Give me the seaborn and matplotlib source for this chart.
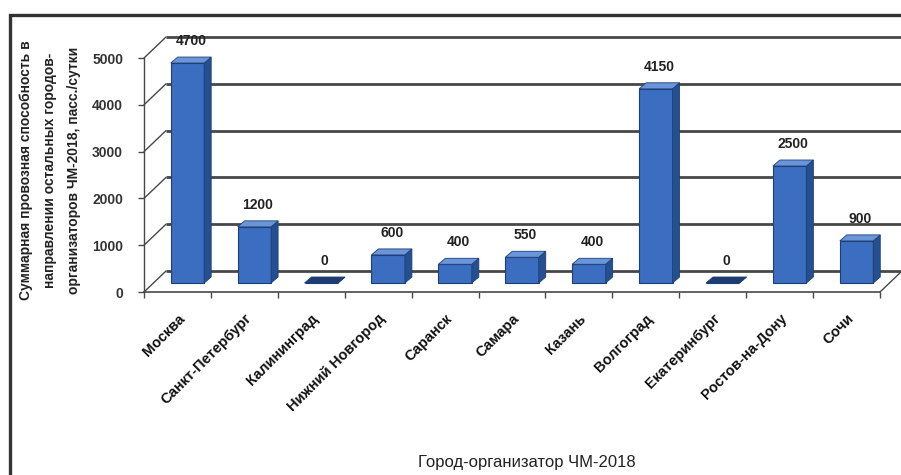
import numpy as np
import pandas as pd
import matplotlib
matplotlib.use('Agg')
import matplotlib.pyplot as plt
import seaborn as sns
from matplotlib.patches import Polygon, Rectangle

cities = ['Москва', 'Санкт-Петербург', 'Калининград', 'Нижний Новгород', 'Саранск',
          'Самара', 'Казань', 'Волгоград', 'Екатеринбург', 'Ростов-на-Дону', 'Сочи']
capacity = [4700, 1200, 0, 600, 400, 550, 400, 4150, 0, 2500, 900]
y_ticks = [0, 1000, 2000, 3000, 4000, 5000]
x_title = 'Город-организатор ЧМ-2018'
y_title = ('Суммарная провозная способность в\n'
           'направлении остальных городов-\n'
           'организаторов ЧМ-2018, пасс./сутки')

FRONT = '#3b6ec0'
SIDE = '#24508f'
TOP = '#6a95d8'
EDGE = '#1d3f78'
GRID = '#484848'

sns.set_theme(style='white')
plt.rcParams['font.family'] = ['Liberation Sans', 'DejaVu Sans']

W, H = 901, 475
fig = plt.figure(figsize=(W / 100, H / 100), dpi=100)
fig.patch.set_facecolor('white')
ax = fig.add_axes([144 / W, 1 - 292 / H, (880 - 144) / W, (292 - 58) / H])
ax.set_facecolor('none')

df = pd.DataFrame({'city': cities, 'cap': capacity})
sns.barplot(data=df, x='city', y='cap', ax=ax, color=FRONT, width=0.5,
            saturation=1, edgecolor=EDGE, linewidth=0.8, zorder=4)
n = len(cities)
ax.set_xlim(-0.5, n - 0.5)
ax.set_ylim(0, 5000)

# pixel -> data conversion
bbox = ax.get_position()
sx = (n) / (bbox.width * W)
sy = 5000 / (bbox.height * H)
def px(dx, dy):
    return dx * sx, dy * sy

bx, by = px(22, 21)   # back wall offset
mx, my = px(10, 9)    # bar placement (mid depth)
dx, dy = px(7, 6)     # bar depth

# back wall grid lines and left-wall diagonals
for yv in y_ticks:
    ax.plot([-0.5 + bx, n - 0.5 + bx + 0.5], [yv + by, yv + by], color=GRID,
            lw=2.0, clip_on=False, zorder=1, solid_capstyle='butt')
    ax.plot([-0.5, -0.5 + bx], [yv, yv + by], color=GRID, lw=1.0,
            clip_on=False, zorder=1)
ax.plot([n - 0.5, n - 0.5 + bx], [0, by], color=GRID, lw=1.0, clip_on=False, zorder=1)

# 3D bars
for p, v in zip(ax.patches, capacity):
    x0 = p.get_x()
    w = p.get_width()
    h = p.get_height()
    p.set_x(x0 + mx)
    p.set_y(my)
    p.set_clip_on(False)
    xl, xr = x0 + mx, x0 + mx + w
    yb, yt = my, my + h
    top_c = TOP if h > 0 else '#1f3c70'
    side = Polygon([(xr, yb), (xr + dx, yb + dy), (xr + dx, yt + dy), (xr, yt)],
                   closed=True, fc=SIDE, ec=EDGE, lw=0.6, zorder=4, clip_on=False)
    top = Polygon([(xl, yt), (xr, yt), (xr + dx, yt + dy), (xl + dx, yt + dy)],
                  closed=True, fc=top_c, ec=EDGE, lw=0.6, zorder=5, clip_on=False)
    ax.add_patch(side)
    ax.add_patch(top)
    ax.annotate(f'{v}', xy=((xl + xr) / 2 + dx / 2, yt + dy), xytext=(0, 9),
                textcoords='offset pixels', ha='center', va='bottom',
                fontsize=10, fontweight='bold', color='#222222',
                annotation_clip=False, zorder=6)

# axes styling
for s in ['top', 'right']:
    ax.spines[s].set_visible(False)
ax.spines['left'].set_color(GRID)
ax.spines['bottom'].set_color(GRID)
ax.spines['left'].set_linewidth(1.0)
ax.spines['bottom'].set_linewidth(1.2)
ax.set_yticks(y_ticks)
ax.set_yticklabels([str(t) for t in y_ticks], fontsize=10, fontweight='bold', color='#333333')
ax.tick_params(axis='y', length=4, width=1, color=GRID, pad=11, left=True)
ax.set_xticks(range(n))
ax.set_xticklabels(cities, rotation=45, ha='right', rotation_mode='anchor',
                   fontsize=10.5, fontweight='bold', color='#111111')
ax.tick_params(axis='x', length=0, pad=14, bottom=True)
ax.set_xticks(np.arange(-0.5, n, 1.0), minor=True)
ax.tick_params(axis='x', which='minor', length=4, width=1, color=GRID, bottom=True)
ax.set_xlabel('')
ax.set_ylabel('')

fig.text(50 / W, 1 - 170 / H, y_title, rotation=90, ha='center', va='center',
         multialignment='center', fontsize=10, fontweight='bold', linespacing=1.95,
         color='#222222')
fig.text(527 / W, 1 - 463 / H, x_title, ha='center', va='center', fontsize=12,
         color='#222222')

# outer frame
fig.add_artist(Rectangle((10 / W, -0.1), 1.2, 1 - 15 / H + 0.1, transform=fig.transFigure,
                         fill=False, lw=2.4, ec='#333333'))

fig.savefig('out.png', dpi=100)
